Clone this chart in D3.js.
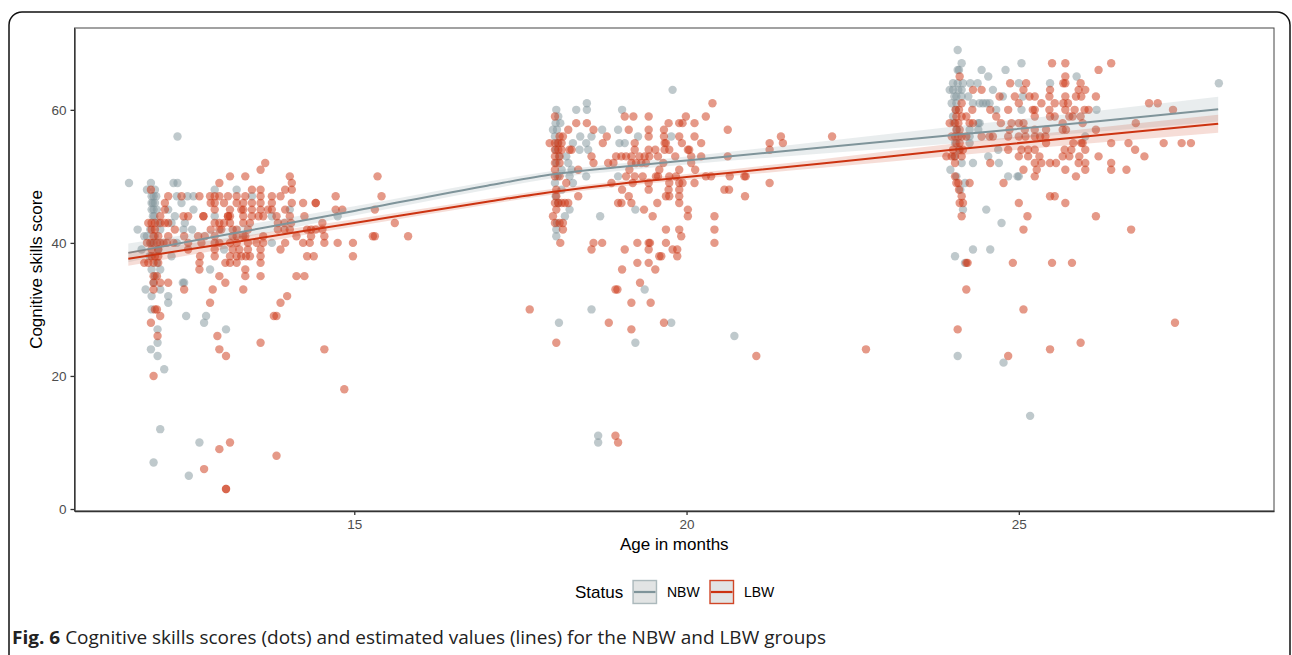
<!DOCTYPE html>
<html>
<head>
<meta charset="utf-8">
<script src="https://d3js.org/d3.v7.min.js"></script>
<style>
	body { margin: 0; background: #fff; }
	text { font-family: "Liberation Sans", Arial, sans-serif; }
</style>
</head>
<body>
<script>
//scores, grouped as [score, [ages...]]
var nbwVisit1 = [
	[56, [12.34]],
	[49, [11.61, 11.94, 12.28, 12.34]],
	[48, [11.88, 12.00, 12.90, 13.23]],
	[47, [11.95, 11.98, 12.02, 12.33, 12.49, 12.58, 13.46]],
	[46, [11.95, 11.97, 12.00, 12.40]],
	[45, [11.95, 11.98, 12.03, 12.20, 12.58, 14.03]],
	[44, [11.97, 11.99, 12.30, 12.90, 13.76, 14.75]],
	[43, [12.05, 12.25, 12.45]],
	[42, [11.74, 11.93, 12.08, 12.43, 12.56]],
	[41, [11.84, 11.88, 12.00]],
	[40, [11.95, 12.33, 13.76]],
	[39, [11.80, 12.05, 13.04]],
	[38, [11.92, 12.25]],
	[37, [12.03]],
	[36, [11.95, 12.08, 12.83]],
	[35, [12.00]],
	[34, [11.98, 12.42, 12.44]],
	[33, [11.86, 12.08]],
	[32, [11.95, 12.20]],
	[31, [12.20]],
	[30, [11.95]],
	[29, [12.47, 12.77]],
	[28, [12.74]],
	[27, [12.04, 13.07]],
	[25, [12.04]],
	[24, [11.94]],
	[23, [12.04]],
	[21, [12.14]],
	[12, [12.08]],
	[10, [12.67]],
	[7, [11.98]],
	[5, [12.51]]
];

var lbwVisit1 = [
	[52, [13.66]],
	[51, [13.59]],
	[50, [13.13, 13.36, 14.03, 15.35]],
	[49, [12.97, 14.06]],
	[48, [11.94, 13.46, 13.59, 13.96, 14.06]],
	[47, [12.20, 12.40, 12.67, 12.83, 12.90, 12.97, 13.10, 13.23, 13.36, 13.59, 13.76, 13.89, 14.72, 15.41]],
	[46, [12.15, 12.84, 12.90, 13.04, 13.23, 13.33, 13.46, 13.59, 13.76, 14.06, 14.23, 14.42, 14.42]],
	[45, [12.15, 12.90, 13.13, 13.30, 13.33, 13.46, 13.59, 13.70, 13.76, 13.96, 14.72, 14.82, 15.31]],
	[44, [12.08, 12.43, 12.50, 12.73, 12.73, 13.10, 13.10, 13.13, 13.33, 13.46, 13.56, 13.63, 13.83, 14.03, 14.25]],
	[43, [11.90, 11.95, 12.00, 12.08, 12.15, 12.20, 12.90, 12.97, 13.04, 13.13, 13.33, 13.43, 13.85, 13.95, 14.05, 14.52, 15.61]],
	[42, [11.95, 12.00, 12.30, 12.84, 12.97, 13.00, 13.17, 13.23, 13.40, 13.85, 13.95, 14.03, 14.29, 14.35, 14.42, 14.52]],
	[41, [11.98, 12.05, 12.20, 12.44, 12.65, 12.75, 12.90, 13.17, 13.23, 13.33, 13.36, 13.63, 14.13, 14.35, 14.55, 15.28, 15.31, 15.81]],
	[40, [11.88, 11.93, 11.98, 12.03, 12.08, 12.13, 12.18, 12.28, 12.50, 12.70, 12.90, 12.97, 13.13, 13.23, 13.40, 13.53, 13.63, 13.96, 14.23, 14.33, 14.55, 14.75, 14.98]],
	[39, [11.95, 12.05, 12.50, 12.90, 13.17, 13.27, 13.40, 13.59, 13.89]],
	[38, [11.95, 12.00, 12.05, 12.68, 12.90, 13.13, 13.23, 13.30, 13.37, 13.43, 13.59, 14.29, 14.39, 14.98]],
	[37, [11.84, 11.90, 11.98, 12.05, 12.67, 13.06, 13.13, 13.23, 13.59]],
	[36, [12.67, 13.36]],
	[35, [11.98, 12.03, 12.97, 13.36, 13.59, 14.13, 14.25]],
	[34, [11.98, 12.08, 12.20, 13.06]],
	[33, [11.98, 12.44, 12.87, 13.33]],
	[32, [13.99]],
	[31, [12.83, 13.89]],
	[30, [12.00, 12.03]],
	[29, [12.08, 13.79, 13.83]],
	[28, [11.94]],
	[26, [12.04, 12.94]],
	[25, [13.59]],
	[24, [12.97, 14.55]],
	[23, [13.07]],
	[20, [11.98]],
	[18, [14.85]],
	[10, [13.13]],
	[9, [12.97]],
	[8, [13.83]],
	[6, [12.74]],
	[3, [13.07, 13.07]]
];

var nbwVisit2 = [
	[63, [19.79]],
	[61, [18.50]],
	[60, [18.04, 18.34, 18.50, 19.03]],
	[59, [18.07]],
	[58, [18.03, 18.10]],
	[57, [17.99, 18.05, 18.73, 18.97]],
	[56, [18.02, 18.40, 18.57, 19.27, 19.77]],
	[55, [18.06, 18.29, 18.49, 18.99, 19.07]],
	[54, [18.03, 18.39, 18.52]],
	[53, [18.08, 18.19]],
	[52, [18.04, 18.22]],
	[51, [18.12, 18.27]],
	[50, [18.06, 18.24, 18.49, 18.97]],
	[49, [18.02, 18.29]],
	[48, [18.12]],
	[47, [18.03]],
	[46, [18.07]],
	[45, [18.24, 19.23]],
	[44, [18.17, 18.70]],
	[43, [18.05]],
	[42, [18.04]],
	[41, [18.04]],
	[33, [19.37]],
	[30, [18.57]],
	[28, [18.08, 19.77]],
	[26, [20.72]],
	[25, [19.23]],
	[11, [18.67]],
	[10, [18.67]]
];

var lbwVisit2 = [
	[61, [20.39]],
	[59, [18.02, 19.07, 19.20, 19.43, 19.99, 20.29]],
	[58, [18.34, 18.50, 19.73, 19.89, 19.94, 20.12]],
	[57, [18.22, 18.60, 19.13, 19.43, 19.66, 20.62]],
	[56, [18.09, 18.14, 18.80, 19.43, 19.66, 19.89, 20.12, 21.42, 22.19]],
	[55, [17.94, 18.02, 18.07, 18.12, 18.74, 19.22, 19.67, 19.69, 19.93, 20.22, 21.25, 21.45]],
	[54, [18.02, 18.07, 18.12, 18.24, 18.27, 19.22, 19.43, 19.53, 19.67, 19.74, 20.02, 20.04, 21.25]],
	[53, [18.02, 18.09, 18.57, 18.94, 19.02, 19.09, 19.17, 19.29, 19.37, 19.44, 19.57, 19.83, 20.07, 20.22, 20.62]],
	[52, [18.02, 18.09, 18.60, 18.82, 18.90, 19.17, 19.24, 19.32, 19.39, 19.65, 20.07]],
	[51, [18.02, 18.37, 19.14, 19.59, 19.89, 20.13]],
	[50, [18.02, 18.09, 19.09, 19.22, 19.34, 19.54, 19.57, 19.74, 19.84, 20.29, 20.37, 20.65, 20.87, 20.89]],
	[49, [18.19, 18.87, 19.19, 19.43, 19.74, 19.89, 19.94, 20.12, 21.25]],
	[48, [18.04, 19.03, 19.43, 19.73, 19.89, 20.57, 20.64]],
	[47, [18.04, 18.37, 19.13, 19.69, 19.74, 19.89, 20.88]],
	[46, [18.02, 18.07, 18.12, 18.17, 18.22, 18.97, 19.02, 19.17, 19.56, 19.89]],
	[45, [18.04, 19.36, 20.02]],
	[44, [17.99, 19.49, 20.02, 20.42]],
	[43, [18.02, 18.09, 18.14]],
	[42, [18.14, 19.69, 19.89, 20.42]],
	[41, [19.92]],
	[40, [18.10, 18.60, 18.73, 19.26, 19.43, 19.45, 19.69, 20.42]],
	[39, [18.57, 19.07, 19.43, 19.79, 19.86]],
	[38, [19.59, 19.62, 19.86]],
	[37, [19.26, 19.43]],
	[36, [19.03, 19.53]],
	[34, [19.30]],
	[33, [18.93, 18.96]],
	[31, [19.17, 19.46]],
	[30, [17.64]],
	[28, [18.83, 19.66]],
	[27, [19.17]],
	[25, [18.04]],
	[24, [22.70]],
	[23, [21.05]],
	[11, [18.93]],
	[10, [18.97]]
];

var nbwVisit3 = [
	[69, [24.08]],
	[67, [24.14, 25.04]],
	[66, [24.08, 24.10, 24.44, 24.80]],
	[65, [24.54, 25.87]],
	[64, [24.01, 24.08, 24.16, 24.27, 24.38, 25.00, 25.47, 28.01]],
	[63, [23.96, 24.01, 24.09, 24.14, 24.61]],
	[62, [24.03, 24.06, 24.14, 24.24, 24.76, 25.06]],
	[61, [23.99, 24.06, 24.31, 24.41, 24.46, 24.51, 24.56]],
	[60, [24.05, 24.66, 25.04, 26.17]],
	[59, [24.01]],
	[58, [24.02, 24.39, 24.41]],
	[57, [24.07, 24.26, 24.39]],
	[56, [24.26, 26.00]],
	[55, [24.04, 24.26]],
	[54, [24.10, 24.69]],
	[53, [24.03, 24.54]],
	[52, [24.14, 24.31, 24.70]],
	[51, [23.97]],
	[50, [24.06, 24.84, 24.98, 25.00]],
	[49, [24.19]],
	[48, [24.12]],
	[45, [24.16, 24.51]],
	[43, [24.74]],
	[39, [24.31, 24.57]],
	[38, [24.04]],
	[37, [24.19]],
	[23, [24.08]],
	[22, [24.77]],
	[14, [25.17]]
];

var lbwVisit3 = [
	[67, [25.50, 25.70, 26.39]],
	[66, [26.20]],
	[65, [24.11, 25.70]],
	[64, [24.87, 25.11, 25.67, 25.70, 25.93]],
	[63, [24.31, 24.44, 25.07, 25.47, 25.90, 26.00]],
	[62, [24.71, 24.94, 25.16, 25.24, 25.46, 25.70, 25.86, 25.94, 26.16]],
	[61, [24.14, 25.00, 25.34, 25.54, 25.67, 25.74, 26.96, 27.09]],
	[60, [24.05, 24.10, 24.30, 24.57, 24.84, 25.21, 25.24, 25.46, 25.70, 25.84, 25.99, 26.05, 27.32]],
	[59, [24.06, 24.14, 24.21, 24.66, 25.24, 25.47, 25.54, 25.76, 25.81, 25.93]],
	[58, [23.96, 24.04, 24.09, 24.26, 24.31, 24.73, 24.89, 25.00, 25.07, 25.66, 25.96, 26.76]],
	[57, [24.06, 24.11, 24.86, 25.09, 25.24, 25.41, 25.66, 25.71, 26.16]],
	[56, [23.99, 24.04, 24.09, 24.14, 24.21, 24.44, 24.56, 24.61, 24.84, 25.00, 25.10, 25.24, 25.32, 25.40]],
	[55, [24.06, 24.11, 25.41, 25.82, 25.94, 25.96, 26.39, 26.65, 27.18, 27.45, 27.59]],
	[54, [24.01, 24.11, 24.16, 24.84, 25.04, 25.14, 25.24, 25.69, 25.79, 26.00, 26.75]],
	[53, [23.91, 23.99, 24.04, 24.14, 25.00, 25.14, 25.31, 25.66, 25.76, 25.91, 26.20, 26.89]],
	[52, [24.04, 24.57, 25.24, 25.34, 25.47, 25.56, 25.90, 26.00, 26.39]],
	[51, [25.07, 25.27, 25.70, 26.00, 26.39, 26.62]],
	[50, [24.04, 25.24, 25.86]],
	[49, [24.06, 24.09, 24.26, 24.77]],
	[48, [24.10]],
	[47, [24.14, 25.47, 25.54]],
	[46, [24.11, 24.16, 25.00, 25.70]],
	[44, [24.14, 25.13, 26.16]],
	[42, [25.07, 26.69]],
	[37, [24.21, 24.23, 24.91, 25.50, 25.80]],
	[33, [24.21]],
	[30, [25.07]],
	[28, [27.35]],
	[27, [24.08]],
	[25, [25.93]],
	[24, [25.47]],
	[23, [24.84]]
];

//estimated values (lines) and half width of the confidence band
var fitAge = [11.6, 13, 15, 17, 18, 19, 20, 22, 24, 26, 28];
var nbwFit = [38.5, 41.1, 44.8, 48.6, 50.3, 51.4, 52.4, 54.3, 56.2, 58.1, 60.1];
var nbwBand = [1.4, 1.0, 0.7, 0.6, 0.55, 0.55, 0.6, 0.9, 1.25, 1.55, 1.85];
var lbwFit = [37.6, 39.8, 43.0, 46.2, 47.7, 48.9, 49.9, 51.9, 54.0, 56.0, 57.9];
var lbwBand = [1.05, 0.8, 0.55, 0.45, 0.42, 0.42, 0.45, 0.65, 0.9, 1.1, 1.35];

var xTicks = [15, 20, 25];
var yTicks = [0, 20, 40, 60];
var statusLabels = ["NBW", "LBW"];
var statusColors = ["#7f949a", "#cc3311"];

var width = 1292,
	height = 655;

var svg = d3.select("body")
	.append("svg")
	.attr("width", width)
	.attr("height", height);

//outer figure frame with rounded top corners
svg.append("rect")
	.attr("x", 9)
	.attr("y", 12)
	.attr("width", 1281)
	.attr("height", 700)
	.attr("rx", 13)
	.attr("fill", "none")
	.attr("stroke", "#111")
	.attr("stroke-width", 1.5);

var panel = {left: 74.5, right: 1274, top: 28, bottom: 511};

var x = d3.scaleLinear()
	.domain([10.79, 28.84])
	.range([panel.left, panel.right]);

var y = d3.scaleLinear()
	.domain([-0.3, 72.3])
	.range([panel.bottom, panel.top]);

function toPoints(rows){
	var pts = [];
	rows.forEach(function(r){
		r[1].forEach(function(a){ pts.push([a, r[0]]); });
	});
	return pts;
}

var nbwPoints = toPoints(nbwVisit1).concat(toPoints(nbwVisit2), toPoints(nbwVisit3));
var lbwPoints = toPoints(lbwVisit1).concat(toPoints(lbwVisit2), toPoints(lbwVisit3));

//panel border
svg.append("rect")
	.attr("x", panel.left)
	.attr("y", panel.top)
	.attr("width", panel.right - panel.left)
	.attr("height", panel.bottom - panel.top)
	.attr("fill", "none")
	.attr("stroke", "#444")
	.attr("stroke-width", 1);

//dots
var dots = svg.append("g");
[nbwPoints, lbwPoints].forEach(function(pts, i){
	dots.selectAll(".dot" + i)
		.data(pts)
		.enter()
		.append("circle")
		.attr("class", "dot" + i)
		.attr("cx", function(d){ return x(d[0]); })
		.attr("cy", function(d){ return y(d[1]); })
		.attr("r", 4.2)
		.attr("fill", statusColors[i])
		.attr("fill-opacity", 0.5);
});

//bands and lines
var fits = [nbwFit, lbwFit],
	bands = [nbwBand, lbwBand];

fits.forEach(function(fit, i){
	var rows = fitAge.map(function(a, j){ return {age: a, fit: fit[j], half: bands[i][j]}; });

	var area = d3.area()
		.curve(d3.curveMonotoneX)
		.x(function(d){ return x(d.age); })
		.y0(function(d){ return y(d.fit - d.half); })
		.y1(function(d){ return y(d.fit + d.half); });

	var line = d3.line()
		.curve(d3.curveMonotoneX)
		.x(function(d){ return x(d.age); })
		.y(function(d){ return y(d.fit); });

	svg.append("path")
		.datum(rows)
		.attr("d", area)
		.attr("fill", statusColors[i])
		.attr("fill-opacity", 0.17);

	svg.append("path")
		.datum(rows)
		.attr("d", line)
		.attr("fill", "none")
		.attr("stroke", statusColors[i])
		.attr("stroke-width", 2);
});

//axes
var xAxis = svg.append("g")
	.attr("transform", "translate(0," + panel.bottom + ")")
	.call(d3.axisBottom(x).tickValues(xTicks).tickSize(4).tickSizeOuter(0).tickPadding(4));

var yAxis = svg.append("g")
	.attr("transform", "translate(" + panel.left + ",0)")
	.call(d3.axisLeft(y).tickValues(yTicks).tickSize(4).tickSizeOuter(0).tickPadding(4));

[xAxis, yAxis].forEach(function(ax){
	ax.select(".domain").attr("stroke", "#333").attr("stroke-width", 1.3);
	ax.selectAll(".tick line").attr("stroke", "#333").attr("stroke-width", 1.3);
	ax.selectAll(".tick text")
		.attr("fill", "#4d4d4d")
		.style("font-size", "13.5px")
		.style("font-family", "'Liberation Sans', Arial, sans-serif");
});

//axis titles
svg.append("text")
	.attr("x", (panel.left + panel.right) / 2)
	.attr("y", 550)
	.attr("text-anchor", "middle")
	.style("font-size", "17px")
	.text("Age in months");

svg.append("text")
	.attr("transform", "translate(42," + ((panel.top + panel.bottom) / 2) + ") rotate(-90)")
	.attr("text-anchor", "middle")
	.style("font-size", "17px")
	.text("Cognitive skills score");

//legend
var legend = svg.append("g");
legend.append("text")
	.attr("x", 575)
	.attr("y", 598)
	.style("font-size", "17px")
	.text("Status");

var keyX = [633, 710];
statusLabels.forEach(function(lab, i){
	legend.append("rect")
		.attr("x", keyX[i])
		.attr("y", 580.5)
		.attr("width", 23.5)
		.attr("height", 23)
		.attr("fill", "#e2e4e4")
		.attr("stroke", statusColors[i])
		.attr("stroke-opacity", i == 0 ? 0.6 : 0.9)
		.attr("stroke-width", 1.4);
	legend.append("line")
		.attr("x1", keyX[i] + 1)
		.attr("x2", keyX[i] + 22.5)
		.attr("y1", 592)
		.attr("y2", 592)
		.attr("stroke", statusColors[i])
		.attr("stroke-width", 2.2);
	legend.append("text")
		.attr("x", keyX[i] + 34)
		.attr("y", 597)
		.style("font-size", "14px")
		.text(lab);
});

//caption
var caption = svg.append("text")
	.attr("x", 12)
	.attr("y", 644)
	.attr("textLength", 814)
	.attr("lengthAdjust", "spacingAndGlyphs")
	.style("font-family", "'Open Sans', 'DejaVu Sans Condensed', sans-serif")
	.style("font-size", "18px")
	.attr("fill", "#222");
caption.append("tspan").style("font-weight", "bold").text("Fig. 6");
caption.append("tspan").text(" Cognitive skills scores (dots) and estimated values (lines) for the NBW and LBW groups");
</script>
</body>
</html>
